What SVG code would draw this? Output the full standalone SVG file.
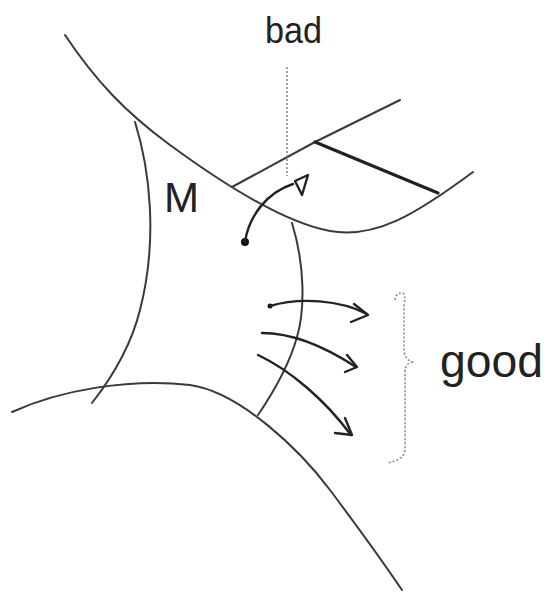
<svg xmlns="http://www.w3.org/2000/svg" width="550" height="597" viewBox="0 0 550 597">
<style>
.ln{fill:none;stroke:#3a3a3a;stroke-width:2;stroke-linecap:round;stroke-linejoin:round}
.thick{fill:none;stroke:#222;stroke-width:3.2;stroke-linecap:round}
.dot{fill:none;stroke:#8a8a8a;stroke-width:1.6;stroke-dasharray:2 2}
.arr{fill:none;stroke:#222;stroke-width:2.4;stroke-linecap:round;stroke-linejoin:round}
.lbl{font-family:"Liberation Sans",Arial,sans-serif;fill:#222}
</style>
<rect width="550" height="597" fill="#fff"/>
<g id="upper-surface">
<path class="ln" d="M65,35 C95,80 125,112 170,145 C215,178 280,222 330,231 C375,239 415,215 473,172"/>
</g>
<g id="lower-surface">
<path class="ln" d="M12,412 C60,390 130,378 190,385 C240,392 300,450 330,490 C360,530 385,565 402,590"/>
</g>
<g id="region-M">
<path class="ln" d="M135,122 C150,170 158,240 140,310 C130,350 110,380 92,403"/>
<path class="ln" d="M292,223 C305,265 305,310 297,337 C290,362 275,390 258,415"/>
<text class="lbl" x="164" y="212" font-size="42">M</text>
</g>
<g id="wedge">
<path class="ln" d="M232,187 L315,142 L400,100"/>
<path class="thick" d="M315,142 L438,193"/>
</g>
<g id="label-bad">
<text class="lbl" x="265" y="43" font-size="36" textLength="57" lengthAdjust="spacingAndGlyphs">bad</text>
<path class="dot" d="M287,67 L287,176"/>
</g>
<g id="label-good">
<text class="lbl" x="440" y="377" font-size="46" textLength="103" lengthAdjust="spacingAndGlyphs">good</text>
<path class="dot" d="M395,300 Q396,292 403,293 Q406,296 404,305 L404,352 Q406,360 412,362 Q405,364 405,372 L405,450 Q404,460 387,463"/>
</g>
<g id="connectors">
<circle cx="245" cy="242" r="4" fill="#111"/>
<path class="arr" d="M245,242 C249,215 268,192 293,184"/>
<path class="arr" d="M295,181 L308,175 L302,195 Z"/>
<circle cx="270" cy="306" r="2.5" fill="#111"/>
<path class="arr" d="M270,306 C300,297 340,300 367,314"/>
<path class="arr" d="M354,304 L368,315 L351,322"/>
<path class="arr" d="M262,333 C295,333 330,350 356,367"/>
<path class="arr" d="M347,355 L357,367 L345,372"/>
<path class="arr" d="M258,355 C290,370 325,400 351,435"/>
<path class="arr" d="M345,418 L352,435 L335,433"/>
</g>
</svg>
